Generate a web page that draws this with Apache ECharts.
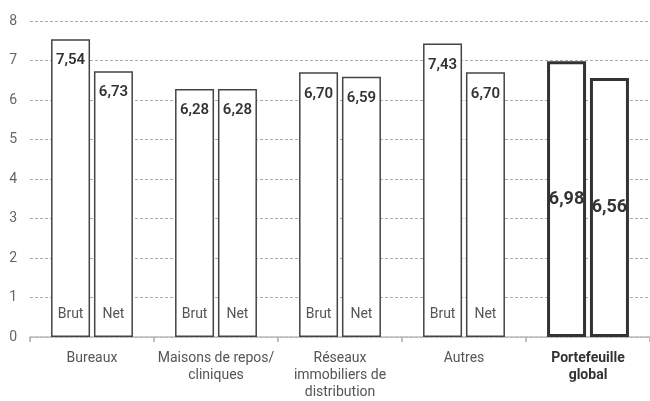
<!DOCTYPE html>
<html>
<head>
<meta charset="utf-8">
<script src="https://cdn.jsdelivr.net/npm/echarts@6/dist/echarts.min.js"></script>
<style>
    html, body { margin: 0; padding: 0; background: #fff; }
    #chart { width: 650px; height: 401px; }
</style>
</head>
<body>
<div id="chart"></div>
<script>
var categories = ['Bureaux', 'Maisons de repos/\ncliniques', 'Réseaux\nimmobiliers de\ndistribution', 'Autres', 'Portefeuille\nglobal']
var brutValues = [7.54, 6.28, 6.70, 7.43, 6.98]
var netValues = [6.73, 6.28, 6.59, 6.70, 6.56]
var yTicks = [0, 1, 2, 3, 4, 5, 6, 7, 8]
var seriesNames = ['Brut', 'Net']

var FONT = 'Roboto'
var globalIndex = categories.length - 1

function barData(values) {
    return values.map(function (v, i) {
        if (i !== globalIndex) return v
        return {
            value: v,
            itemStyle: { borderWidth: 3, borderColor: '#333' },
            label: { position: 'inside', fontSize: 18, fontWeight: 'bold', color: '#333', distance: 0 }
        }
    })
}

// petites barres invisibles qui portent les libellés Brut / Net en bas
function tagData() {
    return categories.map(function (c, i) {
        return i === globalIndex ? '-' : 1.15
    })
}

function fmt(p) {
    return p.value.toFixed(2).replace('.', ',')
}

var valueLabel = {
    show: true,
    position: 'insideTop',
    distance: 14,
    fontFamily: FONT,
    fontSize: 15,
    fontWeight: 600,
    color: '#333',
    formatter: fmt
}

var tagLabel = function (name) {
    return {
        show: true,
        position: 'inside',
        fontFamily: FONT,
        fontSize: 14,
        color: '#555',
        formatter: name
    }
}

var barStyle = { color: '#fff', borderColor: '#444', borderWidth: 1.5 }

var xBase = {
    type: 'category',
    data: categories
}

var myChart = echarts.init(document.getElementById('chart'))
var option = {
    animation: false,
    backgroundColor: '#fff',
    grid: { left: 30, right: 0, top: 21, bottom: 61 },
    xAxis: [
        Object.assign({}, xBase, {
            axisLine: { lineStyle: { color: '#bbb', width: 1.5 } },
            axisTick: { show: true, length: 5, lineStyle: { color: '#aaa', width: 1.5 } },
            axisLabel: {
                fontFamily: FONT,
                fontSize: 14,
                color: '#555',
                lineHeight: 17,
                margin: 13,
                interval: 0,
                formatter: function (v, i) {
                    return i === globalIndex ? '{b|' + v + '}' : v
                },
                rich: {
                    b: { fontFamily: FONT, fontSize: 14, fontWeight: 'bold', color: '#333', lineHeight: 17 }
                }
            }
        }),
        Object.assign({}, xBase, { show: false })
    ],
    yAxis: {
        type: 'value',
        min: yTicks[0],
        max: yTicks[yTicks.length - 1],
        interval: 1,
        axisLine: { show: false },
        axisTick: { show: false },
        axisLabel: { fontFamily: FONT, fontSize: 14, color: '#666', margin: 13 },
        splitLine: { lineStyle: { color: '#aaa', type: [3, 2], width: 1 } }
    },
    series: [
        {
            name: seriesNames[0], type: 'bar', xAxisIndex: 0,
            barWidth: 39, barGap: '10%',
            data: barData(brutValues), itemStyle: barStyle, label: valueLabel
        },
        {
            name: seriesNames[1], type: 'bar', xAxisIndex: 0,
            barWidth: 39, barGap: '10%',
            data: barData(netValues), itemStyle: barStyle, label: valueLabel
        },
        {
            name: 'tagBrut', type: 'bar', xAxisIndex: 1, z: 5, silent: true,
            barWidth: 39, barGap: '10%',
            data: tagData(), itemStyle: { color: 'transparent' }, label: tagLabel(seriesNames[0])
        },
        {
            name: 'tagNet', type: 'bar', xAxisIndex: 1, z: 5, silent: true,
            barWidth: 39, barGap: '10%',
            data: tagData(), itemStyle: { color: 'transparent' }, label: tagLabel(seriesNames[1])
        }
    ]
}
myChart.setOption(option)
</script>
</body>
</html>
